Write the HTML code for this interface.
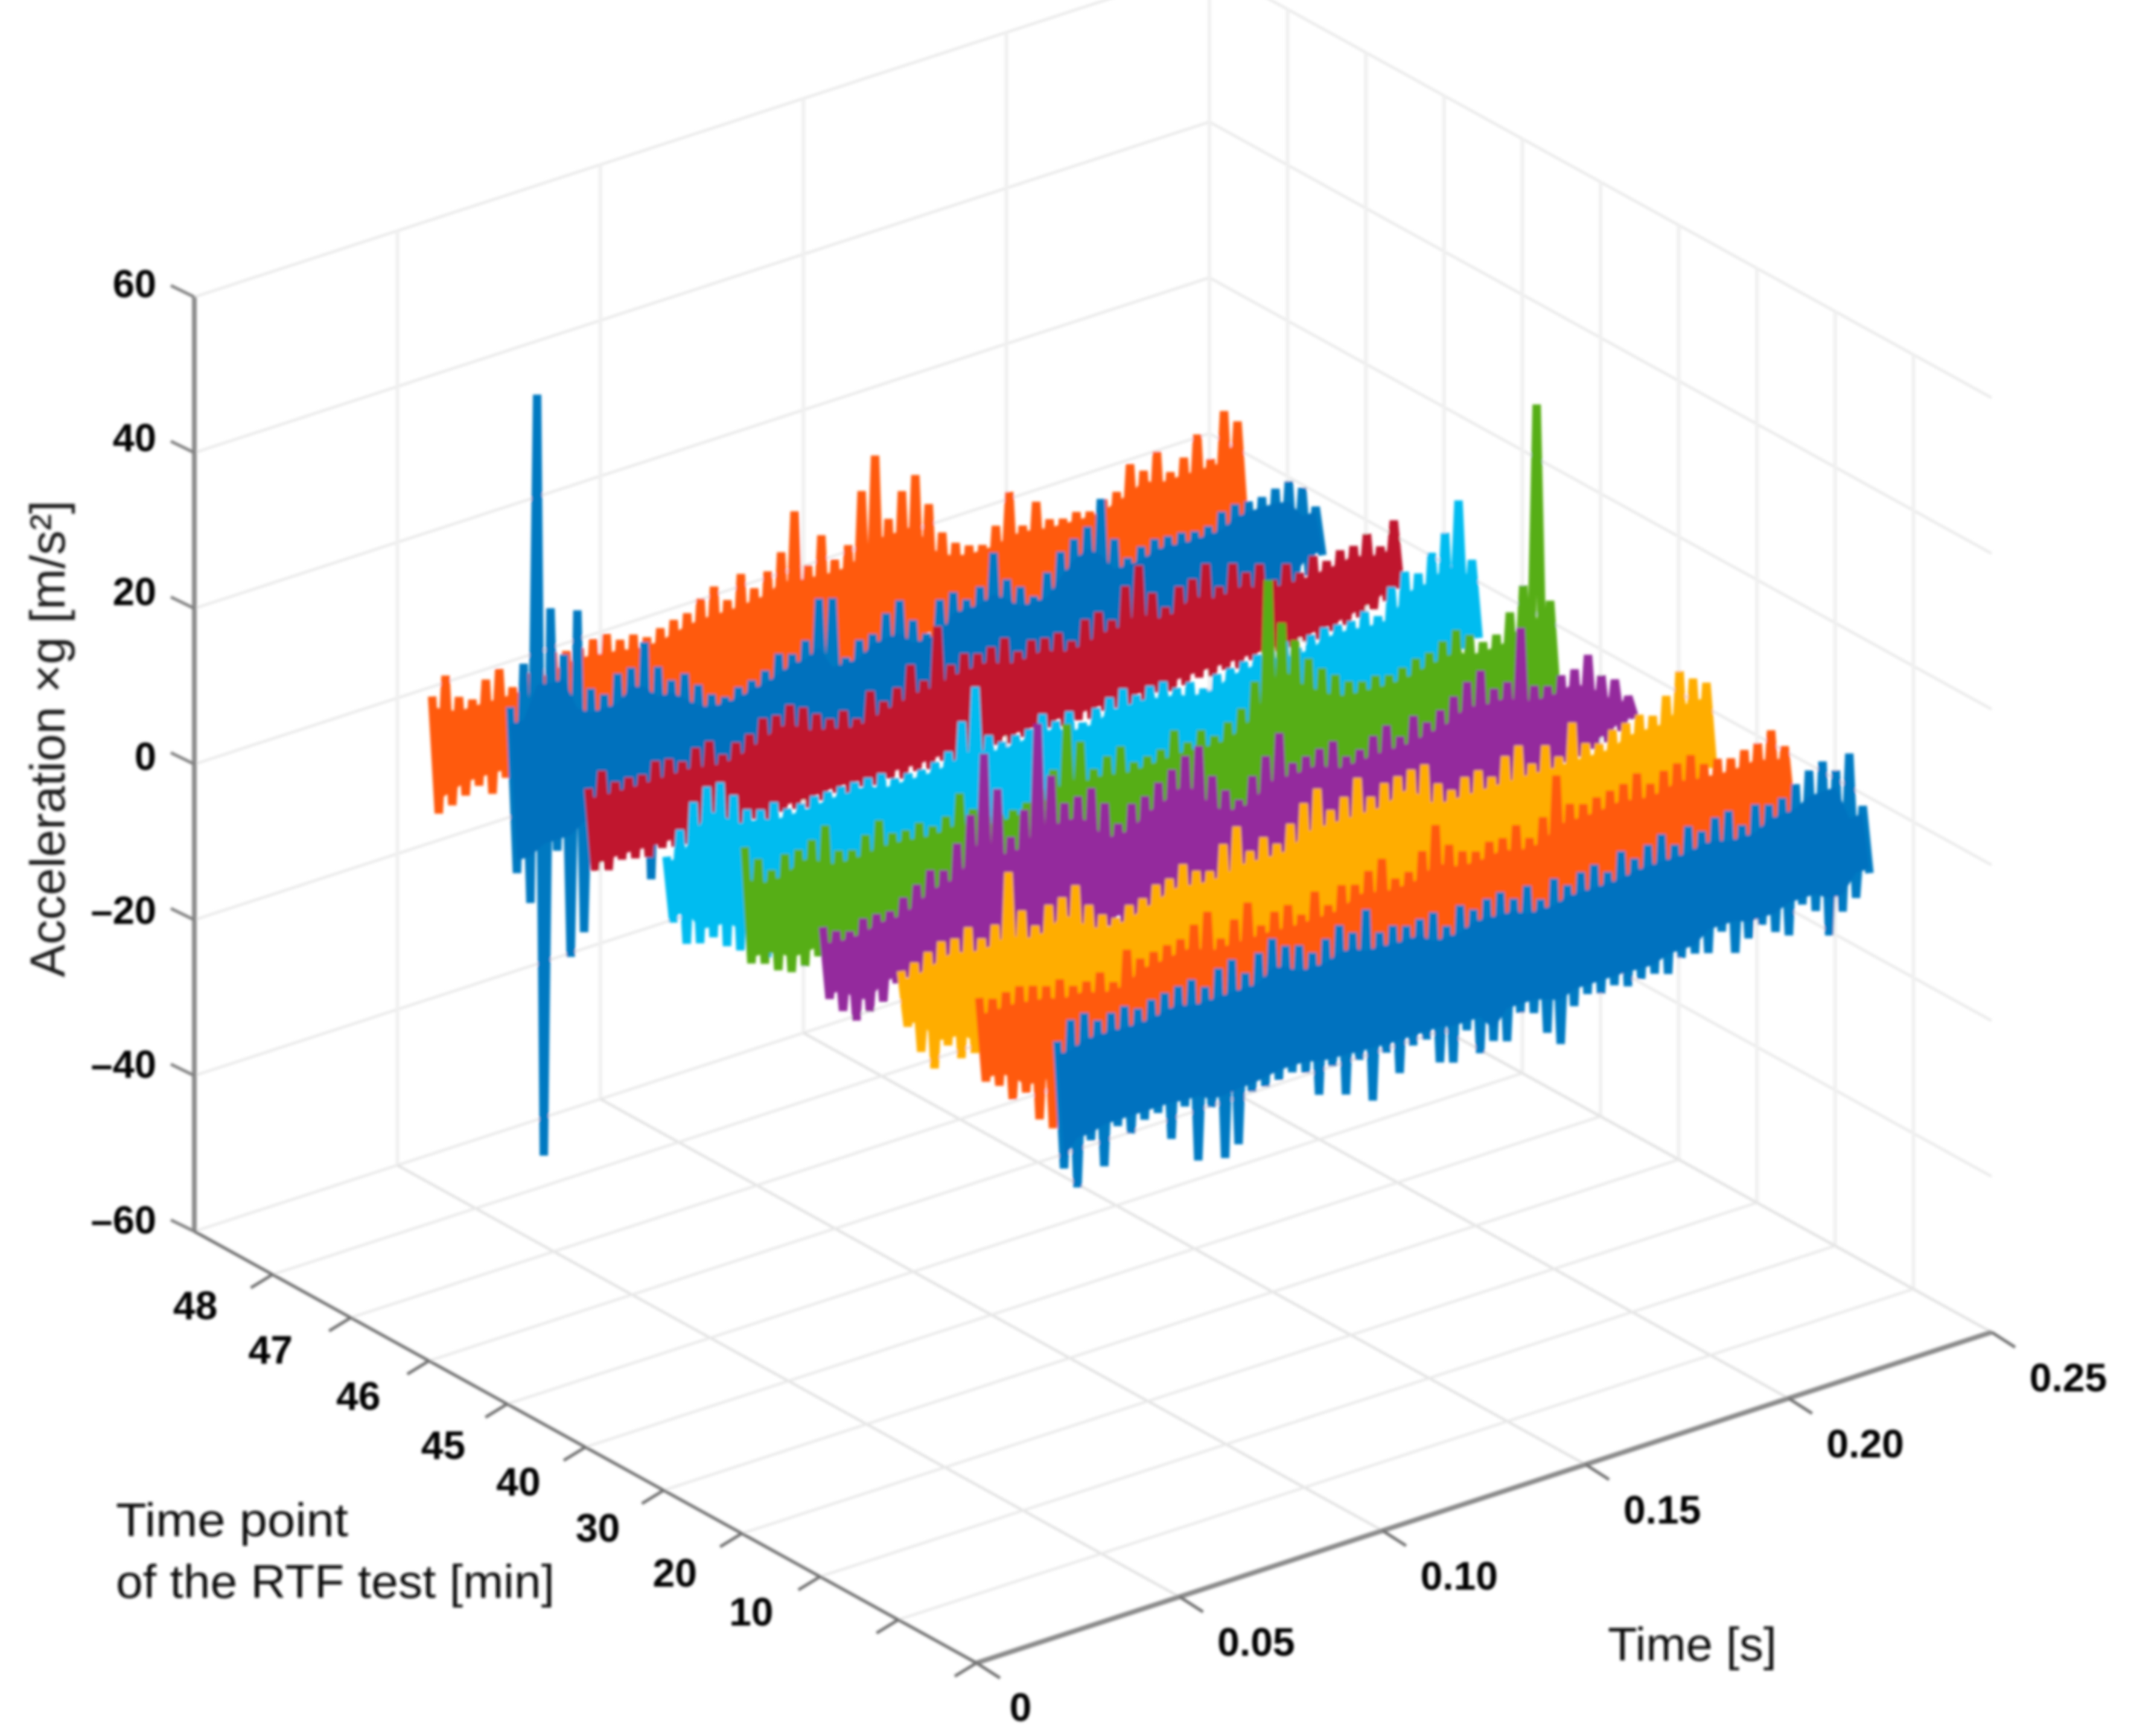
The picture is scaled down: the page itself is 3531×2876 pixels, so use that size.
<!DOCTYPE html>
<html lang="en">
<head>
<meta charset="utf-8">
<title>Acceleration waterfall chart</title>
<style>
html,body{margin:0;padding:0;background:#fff;}
svg{display:block;}
text{font-family:"Liberation Sans",sans-serif;}
</style>
</head>
<body>
<svg id="chart" xmlns="http://www.w3.org/2000/svg" width="3531" height="2876" viewBox="0 0 3531 2876">
<defs><filter id="soft" x="0" y="0" width="100%" height="100%" filterUnits="userSpaceOnUse" primitiveUnits="userSpaceOnUse"><feGaussianBlur stdDeviation="2"/></filter></defs>
<rect x="0" y="0" width="3531" height="2876" fill="#ffffff"/>
<g id="root" filter="url(#soft)">
<g id="grid"></g>
<g id="axes"></g>
<g id="series"></g>
<g id="labels"></g>
<text transform="translate(107,1619) rotate(-90)" font-size="82" fill="#1a1a1a" textLength="790" lengthAdjust="spacingAndGlyphs">Acceleration ×g [m/s²]</text>
<text x="192" y="2545" font-size="78" fill="#111" textLength="385" lengthAdjust="spacingAndGlyphs">Time point</text>
<text x="192" y="2647" font-size="78" fill="#111" textLength="727" lengthAdjust="spacingAndGlyphs">of the RTF test [min]</text>
<text x="2664" y="2751" font-size="78" fill="#111" textLength="280" lengthAdjust="spacingAndGlyphs">Time [s]</text>
</g>
</svg>
<script>
// ---- tick labels / categories ----
const zTicks = [60, 40, 20, 0, -20, -40, -60];
const xTicks = [0, 0.05, 0.10, 0.15, 0.20, 0.25];
const yTickLabels = ["48", "47", "46", "45", "40", "30", "20", "10"];
const seriesTimePoints = ["48", "47", "46", "45", "40", "30", "20", "10", "0"];
const signalDuration = 0.2;

// ---- series values, acceleration in m/s^2 (upper / lower envelope of each trace) ----
const trace48Upper = [6.6,8.7,5.4,4.5,6.5,7.3,4.4,5.6,5.9,7.2,6.8,6.6,7.2,7.3,6,6.1,5.2,5.8,6.3,6.6,7.9,8.9,6.6,9.4,7,8.6,10.5,15.2,7.7,11,7.3,8.6,15,19,10.3,13.3,14.8,10.5,6.3,4.4,3.5,3,4.9,8.7,3.8,6.3,3.5,3,3.3,2.8,3.8,4.2,7.2,5.8,7.7,4.5,5.8,8.2,4.5,10.1,8.2];
const trace48Lower = [-8.7,-8.2,-7.5,-6.8,-8.4,-6.9,-7.8,-7.2,-8.6,-7.3,-8,-7.5,-7,-7.6,-8,-7.2,-7,-7.8,-7.4,-7,-7.5,-8,-7.3,-7,-7.6,-7.9,-7.2,-7,-7.5,-8,-7.4,-7,-7.3,-7.7,-8,-7.2,-7,-7.6,-7.4,-7.8,-7,-7.3,-7.5,-8,-7.2,-7,-7.6,-7.4,-7,-7.3,-7.7,-7.1,-7,-7.5,-7.2,-7.6,-7,-7.3,-7.1,-6.5,-5];
const trace47Upper = [11,16,50,22,15.5,20.6,10,8.7,10.8,11,13.7,10,7.7,8,6,4.2,3.3,4,4.3,5,6.6,6,7.2,12,11.5,3.3,5,5.2,7.3,8.4,5.3,3,6.8,7.2,5.7,6.8,10.6,6.6,5.1,3.3,5.8,7.9,9,10,13,7.3,4.3,5.2,5.6,5.4,5.3,4.9,5,6.3,6.7,6.5,6.5,7,7.4,6,3];
const trace47Lower = [-10.6,-15,-48,-9.4,-23.6,-21,-8,-9,-8.5,-8,-17,-8,-7,-8,-7.5,-7,-7.4,-8,-7.2,-7,-7.6,-7.3,-7,-7.8,-7.4,-7,-7.2,-7.7,-7.5,-7,-7.3,-7.6,-7.1,-7,-7.5,-7.8,-7.2,-7,-7.4,-7.6,-7,-7.3,-7.5,-7.1,-7,-7.6,-7.2,-7,-7.4,-7.5,-7.1,-7,-7.3,-7.4,-7,-6.8,-6.5,-6.3,-6,-5.5,-3.5];
const trace46Upper = [6.3,8,6,6,5.8,7,6.7,5.8,7,7.3,5,6,6.5,8,7.8,8.6,7.7,6.3,5.1,5.6,4,7,5.1,6.3,8.7,6.1,12.5,7,7.9,7.3,7.6,8.2,5.9,6.8,6.5,6.6,5,7.2,7.6,6,9.8,11.9,7.8,5.4,7.5,7.9,9.3,5.8,8.2,6.5,7,4.4,5.9,4.2,5.8,4.6,5.4,5.4,6.4,4.2,7];
const trace46Lower = [-4.5,-5,-4.2,-4.6,-5,-4.4,-4.8,-5,-4.3,-4.6,-4,-5,-4.6,-5.2,-4.8,-5,-5.4,-5,-4.6,-5.2,-4.9,-5.3,-5,-5.6,-5.2,-5.5,-5,-5.6,-5.4,-5.8,-5.2,-5.6,-5.3,-5.7,-5.2,-5.6,-5.4,-5.8,-5.3,-5.5,-5.8,-5.8,-5.2,-5.6,-5.4,-5,-5.4,-5.1,-5.5,-5,-5.3,-5,-5,-4.8,-5.1,-4.6,-4.4,-4,-3.5,-3,-2];
const trace45Upper = [3.3,6.2,9.2,10.6,10.6,8.4,6,5.4,5.8,4.4,4.5,4.9,4.9,5,5,5,5,3.8,3.9,3.8,4.2,5,8.3,12.2,5.4,4,4.3,4.5,5.9,4.4,5.1,3.1,4.4,5.2,5.8,4.4,5,5,3.6,3.8,2.4,3.7,3.9,4.2,4.5,4.4,5.1,3.7,4.8,5.2,5,4.9,5.6,4.4,7.6,9,8.2,10.3,12.3,15.9,7.7];
const trace45Lower = [-5.4,-8.7,-9.2,-9,-10.7,-11.8,-12.3,-13.8,-9,-8,-7.5,-8,-7.2,-7.6,-7,-7.4,-7.8,-7.2,-7,-7.5,-7.3,-7,-7.6,-7.2,-7,-7.4,-7.6,-7.1,-7,-7.5,-7.2,-7,-7.4,-7.6,-7,-7.2,-7.5,-7.1,-7,-7.3,-7.4,-7,-6.8,-7.1,-6.9,-7,-6.7,-6.8,-6.5,-6.6,-6.4,-6,-5.8,-5.6,-5.2,-4.8,-4.4,-4,-3.8,-3.4,-2.6];
const trace40Upper = [10.3,8.2,6.2,7.7,7.7,8.4,9.7,5.9,5.4,6.8,8.1,5.9,5.7,6.1,5.1,5.8,8.2,5.6,4.1,3.7,3.8,4.2,5.3,7.3,12.6,9.8,5.7,6.8,7.5,4.9,5.1,5.4,7.3,5.2,6.2,4.9,6.1,7.3,10.2,22.7,16.6,13.8,10.9,9.1,7.7,6.3,5.7,5.9,5.4,5.8,6.4,6.6,7.5,8.4,7.2,5.7,6.1,8.4,11.3,34,8.2];
const trace40Lower = [-4.9,-5.5,-6.9,-7.7,-7.5,-6.8,-6.5,-6,-6.2,-6.5,-6,-6.3,-6.6,-6,-6.4,-6.2,-6,-6.5,-6.3,-6,-6.4,-6.1,-6,-6.5,-6.2,-6,-6.3,-6.4,-6,-6.2,-6.5,-6,-6.3,-6.1,-6,-6.4,-6.2,-6,-6.3,-6.5,-6.1,-6,-6.4,-6.2,-6,-6.3,-6.1,-6,-6.2,-6.4,-6,-6.1,-6.2,-6,-5.8,-5.6,-5.4,-5.1,-5,-5,-4.7];
const trace30Upper = [5.8,4.7,4.1,5.2,5.2,5,6.2,7.3,8.6,8,10.9,14,21.3,16.2,9.5,12.4,22.9,15.7,11.6,11.9,12.4,9.9,6.7,8.7,9.1,10.3,11.4,12.6,13.3,8.9,6.5,4.7,7.2,9.2,11.6,7.2,7.5,7.9,8.3,5.8,6.1,7.3,8.1,6.1,8.2,6.8,7.8,9,10.3,11.2,8.3,8.6,15,7,6.4,7.2,7.4,8.7,5.5,4.4,1.7];
const trace30Lower = [-3.7,-5.8,-7.6,-7,-6.3,-4.5,-4.3,-5.5,-6,-5.8,-6.2,-6,-6.4,-6.1,-6,-6.3,-6.5,-6,-6.2,-6.4,-6,-6.1,-6.3,-6,-6.2,-6.5,-6.1,-6,-6.3,-6.2,-6,-6.4,-6.1,-6,-6.2,-6.3,-6,-6.1,-6.4,-6,-6.2,-6.1,-6,-6.3,-6.2,-6,-6.1,-6,-5.8,-5.9,-5.5,-5.2,-5,-4.8,-4.5,-4.2,-4,-3.6,-3.3,-2.4,-1.4];
const trace20Upper = [5.9,6.4,7.2,8,7.8,8.7,6.7,7.9,14.1,8.6,6.1,8.2,8.6,9.6,6.5,4.7,3.7,4.8,5.1,6.3,6.5,7.8,6.4,5.8,8.7,10.4,6.7,7.9,6.5,8.5,10.6,11.9,8.6,9.7,11.6,8.6,9.8,10.1,10.4,10.5,7.5,6.1,7.2,7.5,6.1,8.2,9,6.1,7.9,5.9,9.7,6.5,5.9,7.1,7.4,7.9,7.2,9.2,11.8,10.3,9.2];
const trace20Lower = [-1.5,-5.3,-8,-5.6,-7.8,-7.7,-7.3,-6.5,-6,-6.2,-6,-6.3,-6,-6.1,-6.4,-6,-6.2,-6,-6.3,-6.1,-6,-6.2,-6.4,-6,-6.1,-6.3,-6,-6.2,-6.1,-6,-6.3,-6.2,-6,-6.1,-6,-6.3,-6.1,-6,-6.2,-6,-6.1,-6.3,-6,-6.2,-6.1,-6,-6,-6.2,-6,-5.9,-6,-5.8,-5.6,-5.5,-5.2,-5,-4.8,-4.4,-4,-3.4,-2];
const trace10Upper = [8.2,7.5,7.8,8,7.5,6.9,7.2,5.8,5.8,6.4,4.6,8.2,6.5,6.8,7.1,7.3,8.6,9.7,5.7,7.6,9.2,5.7,6.9,7.2,5.4,7.8,5.5,7.5,7,8.2,9.2,6.1,6.4,8.5,11.3,8.2,6.8,6.2,6.9,6.8,7.9,5.7,7.8,12.6,8.4,7.8,8.1,8.4,8.7,9.5,7.6,8.7,9.1,9.6,7.9,8,7.5,8,8.3,9.4,6.8];
const trace10Lower = [-2.8,-3.9,-6.2,-5.9,-9.9,-11.6,-6,-6.2,-6,-6.1,-6.3,-6,-6.2,-6.1,-6,-6.3,-6,-6.2,-6.1,-6,-6.2,-6,-6.3,-6.1,-6,-6.2,-6,-6.1,-6.3,-6,-6.2,-6.1,-6,-6.2,-6,-6.1,-6.3,-6,-6.1,-6.2,-6,-6.1,-6,-6.2,-6,-6.1,-6,-5.9,-6,-5.8,-5.8,-5.6,-5.4,-5.2,-5,-4.8,-4.4,-4,-3.6,-3,-2.1];
const trace0Upper = [8.4,10.6,10.9,9.4,9.8,10.1,9.2,9.8,10.1,10.4,10.7,9.2,11,11.6,9.3,11.3,12.6,11.1,10.6,9.1,10.3,11.5,10,12.4,8.9,9.2,8.6,8.9,9.2,6.9,9,7.9,8.7,9,7.6,8.7,6.4,8.5,7.1,8.2,8.6,7.1,9.2,7.7,8.9,9.7,7.8,9.6,8.4,9.6,9.9,7.5,9.6,9,9.3,10.5,11.7,12.3,10.6,12.2,4.9];
const trace0Lower = [-8.2,-11.2,-5.7,-9.6,-5,-6.5,-5.3,-5,-8.9,-5.3,-12.8,-6.5,-13.6,-12.4,-6.2,-6.1,-5.8,-5.4,-6,-9.4,-6.3,-10.5,-6.6,-12.4,-6.8,-10,-7,-6.8,-10.3,-10.9,-7.3,-10.8,-9.8,-10.4,-7.3,-7.9,-11,-13,-8.7,-7.7,-8.2,-7.7,-8.4,-8,-7.9,-8.5,-7,-7,-7.5,-5.3,-8.6,-7.3,-6.1,-7.6,-8.6,-5.2,-6.6,-10.3,-7.8,-6.6,-4];

const traceColors = ["#ff5a0c", "#0071bd", "#c0172e", "#00bcf0", "#56ae14", "#94299d", "#ffad00", "#ff5a0c", "#0072bf"];
const traceTipColors = ["#ff5a0c", "#0579c1", "#c0172e", "#00bcf0", "#56ae14", "#94299d", "#ffad00", "#ff5a0c", "#057ac3"];
const traceUppers = [trace48Upper, trace47Upper, trace46Upper, trace45Upper, trace40Upper, trace30Upper, trace20Upper, trace10Upper, trace0Upper];
const traceLowers = [trace48Lower, trace47Lower, trace46Lower, trace45Lower, trace40Lower, trace30Lower, trace20Lower, trace10Lower, trace0Lower];

// ---- axis functions ----
const NS = "http://www.w3.org/2000/svg";
const cornerA = {x: 322, y: 2040};   // left floor corner
const cornerB = {x: 1618, y: 2755};  // front floor corner
const cornerC = {x: 3300, y: 2207};  // right floor corner
const cornerD = {x: cornerA.x + cornerC.x - cornerB.x, y: cornerA.y + cornerC.y - cornerB.y};
const zPxPerUnit = 12.9;
const xMax = 0.25;
const yIntervals = 10;
function zToPx(z) { return (z + 60) * zPxPerUnit; }
function floorPoint(tFrac, yFrac) {
  return {
    x: cornerA.x + (cornerB.x - cornerA.x) * yFrac + (cornerD.x - cornerA.x) * tFrac,
    y: cornerA.y + (cornerB.y - cornerA.y) * yFrac + (cornerD.y - cornerA.y) * tFrac
  };
}
const pxPerSecondX = (cornerC.x - cornerB.x) / xMax;
const pxPerSecondY = (cornerC.y - cornerB.y) / xMax;
const traceOrigin = {x: 716, y: 1239};
const traceStep = {x: 129.5, y: 74.3};
function traceX(t, slot) { return traceOrigin.x + slot * traceStep.x + t * pxPerSecondX; }
function traceY(t, slot, z) { return traceOrigin.y + slot * traceStep.y + t * pxPerSecondY - z * zPxPerUnit; }

function addLine(parent, x1, y1, x2, y2, stroke, width, name) {
  const el = document.createElementNS(NS, "line");
  el.setAttribute("x1", x1.toFixed(1));
  el.setAttribute("y1", y1.toFixed(1));
  el.setAttribute("x2", x2.toFixed(1));
  el.setAttribute("y2", y2.toFixed(1));
  el.setAttribute("stroke", stroke);
  el.setAttribute("stroke-width", width);
  
  
  parent.appendChild(el);
  return el;
}
function addLabel(text, x, y, size, anchor, name) {
  const el = document.createElementNS(NS, "text");
  el.setAttribute("x", x.toFixed(1));
  el.setAttribute("y", (y + size * 0.36).toFixed(1));
  el.setAttribute("font-size", size);
  el.setAttribute("font-weight", "bold");
  el.setAttribute("fill", "#000");
  el.setAttribute("text-anchor", anchor);
  
  
  el.textContent = text;
  document.getElementById("labels").appendChild(el);
}

const grid = document.getElementById("grid");
const axes = document.getElementById("axes");
const gridColor = "#e8e8e8";
const wallVertColor = "#f0f0f0";
const floorColor = "#e0e0e0";

// wall horizontals
zTicks.forEach(function (z) {
  const up = zToPx(z);
  addLine(grid, cornerA.x, cornerA.y - up, cornerD.x, cornerD.y - up, gridColor, 4, "left-wall-gridline-z" + z);
  addLine(grid, cornerD.x, cornerD.y - up, cornerC.x, cornerC.y - up, gridColor, 4, "right-wall-gridline-z" + z);
});
// left wall verticals (time ticks)
xTicks.forEach(function (t) {
  const p = floorPoint(t / xMax, 0);
  if (t > 0) addLine(grid, p.x, p.y, p.x, p.y - zToPx(60), wallVertColor, 6, "left-wall-vertical-" + t);
});
// right wall verticals (time-point ticks)
for (let j = 1; j < yIntervals; j++) {
  const p = {x: cornerD.x + (cornerC.x - cornerD.x) * j / yIntervals, y: cornerD.y + (cornerC.y - cornerD.y) * j / yIntervals};
  addLine(grid, p.x, p.y, p.x, p.y - zToPx(60), wallVertColor, 6, "right-wall-vertical-" + j);
}
// floor lines
xTicks.forEach(function (t) {
  const a = floorPoint(t / xMax, 0);
  const b = floorPoint(t / xMax, 1);
  if (t > 0) addLine(grid, a.x, a.y, b.x, b.y, floorColor, 4, "floor-gridline-time-" + t);
});
for (let j = 1; j < yIntervals; j++) {
  const a = floorPoint(0, j / yIntervals);
  const b = floorPoint(1, j / yIntervals);
  addLine(grid, a.x, a.y, b.x, b.y, gridColor, 4, "floor-gridline-point-" + j);
}

// axes
addLine(axes, cornerA.x, cornerA.y - zToPx(60), cornerA.x, cornerA.y, "#8c8c8c", 8, "z-axis-line");
addLine(axes, cornerA.x, cornerA.y, cornerB.x, cornerB.y, "#707070", 5, "y-axis-line");
addLine(axes, cornerB.x, cornerB.y, cornerC.x, cornerC.y, "#8a8a8a", 8, "x-axis-line");

// z ticks + labels (hand-placed in the source figure, so each carries its own nudge)
const zLabelNudge = {"60": -23, "40": -26, "20": -29, "0": -14, "-20": -17, "-40": -20, "-60": -20};
zTicks.forEach(function (z) {
  const y = cornerA.y - zToPx(z);
  addLine(axes, cornerA.x, y, cornerA.x - 39, y - 19, "#808080", 5, "z-tick-" + z);
  addLabel(z < 0 ? "\u2013" + Math.abs(z) : String(z), 259, y + zLabelNudge[String(z)], 65, "end", "z-tick-label-" + z);
});
// y ticks + labels
function yLabelNudgeFor(i) {
  const nudges = [[-128, 50], [-133, 52], [-117, 57], [-106, 67], [-111, 56], [-109, 61], [-111, 64], [-114, 57]];
  return nudges[i];
}
for (let j = 1; j <= yIntervals; j++) {
  const p = floorPoint(0, j / yIntervals);
  addLine(axes, p.x, p.y, p.x - 36, p.y + 22, "#707070", 5, "y-tick-" + j);
  if (j <= yTickLabels.length) {
    const nudge = yLabelNudgeFor(j - 1);
    addLabel(yTickLabels[j - 1], p.x + nudge[0], p.y + nudge[1], 66, "middle", "y-tick-label-" + yTickLabels[j - 1]);
  }
}
// x ticks + labels
xTicks.forEach(function (t) {
  const x = cornerB.x + t * pxPerSecondX;
  const y = cornerB.y + t * pxPerSecondY;
  addLine(axes, x, y, x + 39, y + 25, "#707070", 5, "x-tick-" + t);
  if (t === 0) addLabel("0", x + 73, y + 72, 66, "middle", "x-tick-label-0");
  else addLabel(t.toFixed(2), x + 127, y + 74, 66, "middle", "x-tick-label-" + t.toFixed(2));
});

// traces: zig-zag between upper and lower envelope samples, with a filled core
const seriesGroup = document.getElementById("series");
traceUppers.forEach(function (upper, slot) {
  const lower = traceLowers[slot];
  const n = upper.length;
  const dt = signalDuration / (n - 0.5);
  const zig = [];
  const coreTop = [];
  const coreBottom = [];
  for (let k = 0; k < n; k++) {
    const t = k * dt;
    const t2 = t + dt / 2;
    zig.push(traceX(t, slot).toFixed(1) + "," + traceY(t, slot, upper[k]).toFixed(1));
    zig.push(traceX(t2, slot).toFixed(1) + "," + traceY(t2, slot, lower[k]).toFixed(1));
    const up = Math.min(upper[Math.max(k - 1, 0)], upper[k], upper[Math.min(k + 1, n - 1)]);
    const lo = Math.max(lower[Math.max(k - 1, 0)], lower[k], lower[Math.min(k + 1, n - 1)]);
    coreTop.push(traceX(t, slot).toFixed(1) + "," + traceY(t, slot, up * 0.8).toFixed(1));
    coreBottom.unshift(traceX(t2, slot).toFixed(1) + "," + traceY(t2, slot, lo * 0.85).toFixed(1));
  }
  const line = document.createElementNS(NS, "polyline");
  line.setAttribute("points", zig.join(" "));
  line.setAttribute("fill", "none");
  line.setAttribute("stroke", traceTipColors[slot]);
  line.setAttribute("stroke-width", "14");
  line.setAttribute("stroke-linejoin", "bevel");
  
  
  seriesGroup.appendChild(line);
  const core = document.createElementNS(NS, "polygon");
  core.setAttribute("points", coreTop.concat(coreBottom).join(" "));
  core.setAttribute("fill", traceColors[slot]);
  
  
  seriesGroup.appendChild(core);
});
</script>
</body>
</html>
